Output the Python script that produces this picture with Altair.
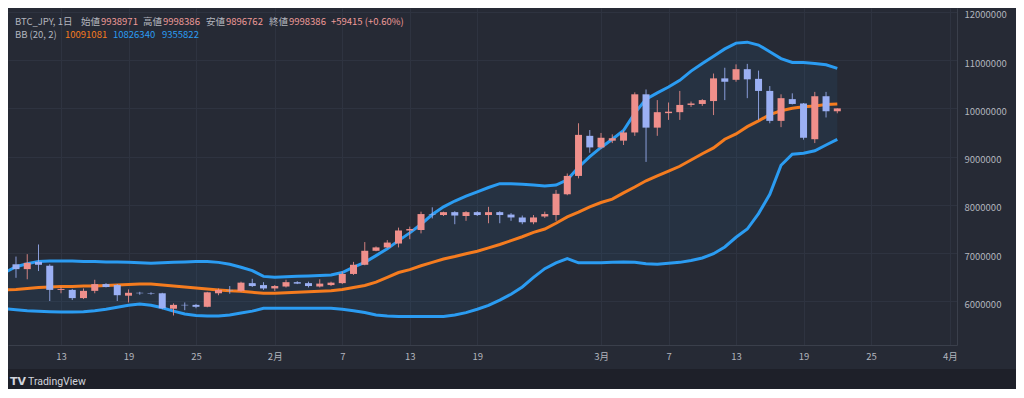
import json
import altair as alt
import pandas as pd

# ---------------- data ----------------
candle_start = "2024-01-09"
candle_end = "2024-03-22"
band_start = "2024-01-08"
ref_day = "2024-01-13"

open_ = [6770000, 6670000, 6820000, 6740000, 6240000, 6240000, 6070000, 6220000, 6360000, 6340000,
         6120000, 6180000, 6170000, 6170000, 5850000, 5930000, 5930000, 5890000, 6170000, 6240000,
         6220000, 6380000, 6340000, 6270000, 6310000, 6400000, 6380000, 6310000, 6340000, 6380000,
         6570000, 6760000, 7050000, 7120000, 7200000, 7470000, 7480000, 7810000, 7790000, 7850000,
         7770000, 7850000, 7790000, 7850000, 7800000, 7740000, 7640000, 7760000, 7790000, 8220000,
         8600000, 9430000, 9190000, 9330000, 9330000, 9500000, 10290000, 9600000, 9900000, 9920000,
         10070000, 10090000, 10150000, 10620000, 10590000, 10810000, 10610000, 10360000, 9740000, 10190000,
         10100000, 9360000, 10250000, 9938971]
high = [6930000, 6980000, 7180000, 6770000, 6310000, 6260000, 6270000, 6450000, 6380000, 6360000,
        6250000, 6200000, 6190000, 6180000, 5960000, 5980000, 5950000, 6200000, 6270000, 6320000,
        6410000, 6470000, 6400000, 6340000, 6450000, 6420000, 6410000, 6460000, 6410000, 6620000,
        6820000, 7230000, 7140000, 7270000, 7530000, 7550000, 7860000, 7950000, 7860000, 7870000,
        7870000, 7870000, 7960000, 7870000, 7830000, 7780000, 7790000, 7860000, 8310000, 8650000,
        9690000, 9550000, 9490000, 9460000, 9540000, 10330000, 10390000, 10170000, 10120000, 10360000,
        10140000, 10190000, 10720000, 10840000, 10910000, 10920000, 10780000, 10460000, 10290000, 10310000,
        10110000, 10340000, 10340000, 9998386]
low = [6490000, 6460000, 6630000, 6010000, 6170000, 6030000, 6050000, 6170000, 6290000, 6010000,
       5980000, 6140000, 6140000, 5840000, 5710000, 5820000, 5860000, 5880000, 6130000, 6160000,
       6200000, 6300000, 6240000, 6220000, 6290000, 6360000, 6290000, 6290000, 6320000, 6360000,
       6550000, 6750000, 7040000, 7100000, 7120000, 7290000, 7410000, 7720000, 7770000, 7600000,
       7670000, 7770000, 7620000, 7620000, 7670000, 7600000, 7600000, 7730000, 7670000, 8200000,
       8550000, 9080000, 9160000, 9280000, 9240000, 9430000, 8890000, 9430000, 9760000, 9760000,
       10030000, 10050000, 9860000, 10170000, 10550000, 10210000, 9760000, 9690000, 9610000, 10080000,
       9350000, 9280000, 9810000, 9896762]
close = [6670000, 6800000, 6760000, 6240000, 6260000, 6070000, 6220000, 6360000, 6300000, 6130000,
         6180000, 6170000, 6160000, 5860000, 5930000, 5920000, 5890000, 6190000, 6240000, 6230000,
         6390000, 6320000, 6270000, 6320000, 6400000, 6370000, 6320000, 6370000, 6390000, 6570000,
         6760000, 7050000, 7120000, 7220000, 7470000, 7500000, 7810000, 7800000, 7850000, 7780000,
         7850000, 7790000, 7850000, 7790000, 7740000, 7640000, 7740000, 7810000, 8230000, 8600000,
         9450000, 9190000, 9390000, 9380000, 9500000, 10290000, 9600000, 9920000, 9930000, 10070000,
         10100000, 10170000, 10620000, 10550000, 10810000, 10600000, 10360000, 9740000, 10210000, 10090000,
         9390000, 10250000, 9938971, 9998386]

# Bollinger bands (20, 2), in millions of yen
bb_upper = [6.60, 6.72, 6.78, 6.83, 6.84, 6.84, 6.84, 6.83, 6.83, 6.82, 6.82, 6.81, 6.80, 6.79, 6.80,
            6.81, 6.82, 6.83, 6.83, 6.81, 6.77, 6.71, 6.64, 6.52, 6.50, 6.51, 6.52, 6.53, 6.54, 6.55,
            6.60, 6.71, 6.81, 6.95, 7.09, 7.26, 7.42, 7.60, 7.80, 7.96, 8.08, 8.18, 8.27, 8.36, 8.44,
            8.44, 8.43, 8.41, 8.39, 8.41, 8.52, 8.78, 9.00, 9.19, 9.36, 9.54, 9.90, 10.19, 10.32, 10.44,
            10.58, 10.77, 10.93, 11.08, 11.23, 11.35, 11.37, 11.31, 11.17, 11.03, 10.95, 10.95, 10.93, 10.90,
            10.826340]
bb_mid = [6.24, 6.25, 6.27, 6.29, 6.30, 6.31, 6.31, 6.32, 6.32, 6.33, 6.34, 6.35, 6.36, 6.36, 6.34,
          6.32, 6.30, 6.28, 6.26, 6.24, 6.22, 6.21, 6.19, 6.17, 6.17, 6.18, 6.19, 6.20, 6.21, 6.22,
          6.25, 6.29, 6.33, 6.40, 6.50, 6.60, 6.66, 6.74, 6.81, 6.88, 6.93, 6.99, 7.04, 7.11, 7.18,
          7.26, 7.34, 7.43, 7.50, 7.62, 7.75, 7.85, 7.96, 8.05, 8.12, 8.25, 8.37, 8.50, 8.60, 8.70,
          8.80, 8.93, 9.06, 9.18, 9.36, 9.47, 9.62, 9.74, 9.87, 9.95, 10.00, 10.03, 10.05, 10.08,
          10.091081]
bb_lower = [5.85, 5.83, 5.81, 5.80, 5.79, 5.78, 5.78, 5.79, 5.81, 5.84, 5.88, 5.92, 5.95, 5.92, 5.87,
            5.80, 5.74, 5.71, 5.70, 5.70, 5.72, 5.76, 5.80, 5.86, 5.86, 5.86, 5.86, 5.86, 5.86, 5.86,
            5.84, 5.81, 5.77, 5.72, 5.70, 5.69, 5.69, 5.69, 5.69, 5.69, 5.72, 5.77, 5.84, 5.92, 6.03,
            6.15, 6.30, 6.50, 6.68, 6.80, 6.89, 6.80, 6.80, 6.80, 6.81, 6.82, 6.81, 6.78, 6.77, 6.79,
            6.81, 6.85, 6.90, 6.99, 7.13, 7.33, 7.50, 7.82, 8.22, 8.82, 9.05, 9.07, 9.12, 9.24,
            9.355822]

tick_dates = ["2024-01-13", "2024-01-19", "2024-01-25", "2024-02-01", "2024-02-07", "2024-02-13",
              "2024-02-19", "2024-03-01", "2024-03-07", "2024-03-13", "2024-03-19", "2024-03-25",
              "2024-04-01"]
tick_labels = ["13", "19", "25", "2月", "7", "13", "19", "3月", "7", "13", "19", "25", "4月"]
price_ticks = [6000000, 7000000, 8000000, 9000000, 10000000, 11000000, 12000000]

# ---------------- styling ----------------
UP = "#ef8f8b"
DOWN = "#9bb0f4"
ORANGE = "#f57c1f"
BLUE = "#2b9cf2"
PANEL = "#262a35"
OUTER = "#1e2029"
GRID = "#2e3340"
AXLINE = "#3a3f4b"
TEXT = "#b2b5be"
FONT = "Noto Sans CJK JP"

ref = pd.Timestamp(ref_day)
cd = pd.date_range(candle_start, candle_end, freq="D")
bd = pd.date_range(band_start, candle_end, freq="D")

candles = pd.DataFrame({"d": (cd - ref).days, "open": open_, "high": high, "low": low, "close": close})
candles["dir"] = ["up" if c >= o else "down" for o, c in zip(open_, close)]
bands = pd.DataFrame({"d": (bd - ref).days,
                      "upper": [v * 1e6 for v in bb_upper],
                      "mid": [v * 1e6 for v in bb_mid],
                      "lower": [v * 1e6 for v in bb_lower]})

tick_days = [int((pd.Timestamp(t) - ref).days) for t in tick_dates]
label_expr = (json.dumps(tick_labels, ensure_ascii=False) + "[indexof(" + json.dumps(tick_days)
              + ", datum.value)]")

xscale = alt.Scale(domain=[-4.711, 79.64], nice=False, zero=False, padding=0)
yscale = alt.Scale(domain=[5099000, 12077000], nice=False, zero=False, padding=0)
xaxis = alt.Axis(values=tick_days, labelExpr=label_expr, grid=True, gridColor=GRID, ticks=False,
                 tickSize=0, domain=True, domainColor=AXLINE, labelColor=TEXT, labelFont=FONT,
                 labelFontSize=9.5, labelPadding=6, labelOverlap=False, labelFlush=False, title=None)
yaxis = alt.Axis(values=price_ticks, format="d", orient="right", grid=True, gridColor=GRID,
                 ticks=False, tickSize=0, domain=True, domainColor=AXLINE, labelColor=TEXT,
                 labelFont=FONT, labelFontSize=9.5, labelAlign="left", labelPadding=7,
                 labelOffset=3, labelOverlap=False, labelFlush=False, title=None)


def X():
    return alt.X("d:Q", scale=xscale, axis=xaxis)


def Y(field):
    return alt.Y(f"{field}:Q", scale=yscale, axis=yaxis)


color = alt.Color("dir:N", scale=alt.Scale(domain=["up", "down"], range=[UP, DOWN]), legend=None)

fill = alt.Chart(bands).mark_area(color=BLUE, opacity=0.07, clip=True).encode(
    x=X(), y=Y("upper"), y2="lower:Q")
upper_line = alt.Chart(bands).mark_line(color=BLUE, strokeWidth=3, clip=True).encode(
    x=X(), y=Y("upper"))
lower_line = alt.Chart(bands).mark_line(color=BLUE, strokeWidth=3, clip=True).encode(
    x=X(), y=Y("lower"))
mid_line = alt.Chart(bands).mark_line(color=ORANGE, strokeWidth=3, clip=True).encode(
    x=X(), y=Y("mid"))
wicks = alt.Chart(candles).mark_rule(strokeWidth=1, opacity=0.85, clip=True).encode(
    x=X(), y=Y("low"), y2="high:Q", color=color)
bodies = alt.Chart(candles).mark_bar(size=7, clip=True).encode(
    x=X(), y=Y("open"), y2="close:Q", color=color)

# legend text (top-left)
last = candles.iloc[-1]
prev_close = candles.iloc[-2]["close"]
chg = int(last["close"] - prev_close)
pct = chg / prev_close * 100
VAL = "#ef9a98"
pieces = [
    ("BTC_JPY, 1日", TEXT, 7, 14),
    ("始値", TEXT, 73, 14), (f"{int(last['open'])}", VAL, 93, 14),
    ("高値", TEXT, 135, 14), (f"{int(last['high'])}", VAL, 155, 14),
    ("安値", TEXT, 198, 14), (f"{int(last['low'])}", VAL, 218, 14),
    ("終値", TEXT, 261, 14), (f"{int(last['close'])}", VAL, 281, 14),
    (f"+{chg} (+{pct:.2f}%)", VAL, 323, 14),
    ("BB (20, 2)", TEXT, 7, 27),
    (f"{int(round(bands.iloc[-1]['mid']))}", ORANGE, 57, 27),
    (f"{int(round(bands.iloc[-1]['upper']))}", BLUE, 105, 27),
    (f"{int(round(bands.iloc[-1]['lower']))}", BLUE, 154, 27),
]
texts = []
for t, c, px, py in pieces:
    texts.append(
        alt.Chart(pd.DataFrame({"t": [t]})).mark_text(
            align="left", baseline="middle", color=c, font=FONT, fontSize=9.5
        ).encode(text="t:N", x=alt.value(px), y=alt.value(py))
    )

top = alt.layer(fill, upper_line, lower_line, mid_line, wicks, bodies, *texts).properties(
    width=949, height=337, view=alt.ViewBackground(fill=PANEL, stroke=None)
)

logo_icon = alt.Chart(pd.DataFrame({"t": ["TV"]})).mark_text(
    align="left", baseline="middle", color="#d1d4dc", font="DejaVu Sans", fontSize=11,
    fontWeight=900
).encode(text="t:N", x=alt.value(2), y=alt.value(13))
logo_text = alt.Chart(pd.DataFrame({"t": ["TradingView"]})).mark_text(
    align="left", baseline="middle", color="#d1d4dc", font="Roboto", fontSize=10.5
).encode(text="t:N", x=alt.value(20), y=alt.value(13))
bottom = alt.layer(logo_icon, logo_text).properties(
    width=1008, height=20, view=alt.ViewBackground(fill=OUTER, stroke=None)
)

chart = alt.vconcat(top, bottom, spacing=8).properties(background=PANEL, padding=0)

chart.save("out.html", embed_options={"renderer": "svg", "actions": False})
